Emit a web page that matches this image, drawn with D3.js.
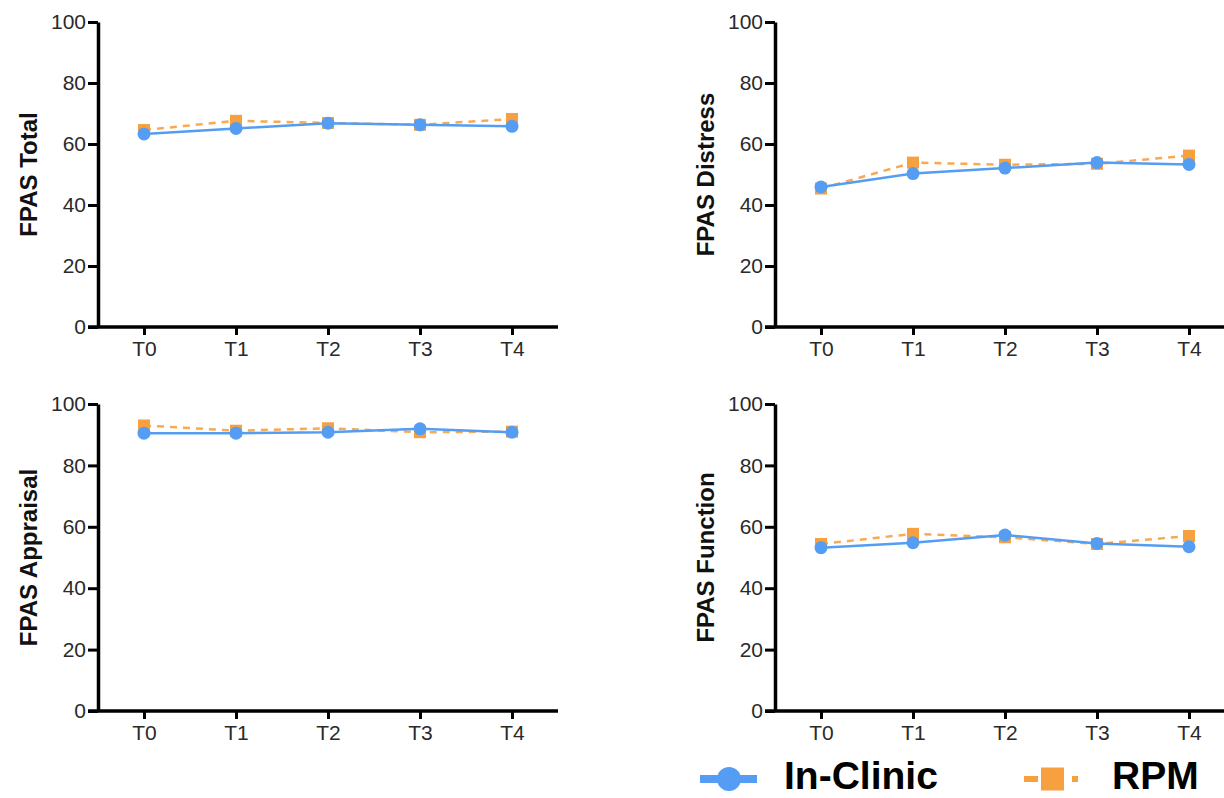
<!DOCTYPE html>
<html>
<head>
<meta charset="utf-8">
<script src="https://cdn.jsdelivr.net/npm/d3@7"></script>
<style>
  html, body { margin: 0; padding: 0; background: #fff; }
  svg { display: block; font-family: "Liberation Sans", Arial, sans-serif; }
</style>
</head>
<body>
<svg id="chart" width="1224" height="798"></svg>
<script>
// timepoints and tick labels
const timepoints = ["T0", "T1", "T2", "T3", "T4"];
const yTicks = [0, 20, 40, 60, 80, 100];

// FPAS scores
const totalClinic = [63.3, 65.1, 66.8, 66.3, 65.8];
const totalRpm = [64.6, 67.6, 66.9, 66.3, 68.2];
const distressClinic = [45.9, 50.3, 52.1, 53.9, 53.3];
const distressRpm = [45.4, 53.9, 53.2, 53.5, 56.2];
const appraisalClinic = [90.5, 90.5, 90.8, 91.9, 90.8];
const appraisalRpm = [93.0, 91.3, 92.1, 90.8, 91.0];
const functionClinic = [53.2, 54.8, 57.3, 54.6, 53.5];
const functionRpm = [54.4, 57.7, 56.6, 54.4, 57.0];

const seriesNames = ["In-Clinic", "RPM"];

const blue = "#559df2";
const orange = "#f7a040";
const tickLen = 10;

const svg = d3.select("#chart");

// one entry per panel, left/top = position of the y axis & the 100 line
const panels = [
  { title: "FPAS Total", clinic: totalClinic, rpm: totalRpm, left: 98, top: 22, bottom: 327, titleX: 28 },
  { title: "FPAS Distress", clinic: distressClinic, rpm: distressRpm, left: 775, top: 22, bottom: 327, titleX: 705 },
  { title: "FPAS Appraisal", clinic: appraisalClinic, rpm: appraisalRpm, left: 98, top: 404, bottom: 711, titleX: 28 },
  { title: "FPAS Function", clinic: functionClinic, rpm: functionRpm, left: 775, top: 404, bottom: 711, titleX: 705 }
];

panels.forEach((p) => {
  const x = d3.scalePoint().domain(timepoints).range([p.left, p.left + 460]).padding(0.5);
  const y = d3.scaleLinear().domain([0, 100]).range([p.bottom, p.top]);

  const g = svg.append("g");

  // y axis
  const yAxis = g.append("g")
    .attr("transform", `translate(${p.left},0)`)
    .call(d3.axisLeft(y).tickValues(yTicks).tickSize(tickLen).tickPadding(2).tickSizeOuter(0));
  yAxis.select(".domain").attr("stroke", "#000").attr("stroke-width", 3.5);
  yAxis.selectAll(".tick line").attr("stroke", "#000").attr("stroke-width", 3);
  yAxis.selectAll(".tick text").attr("fill", "#2a2a2a").style("font-size", "21px");

  // x axis
  const xAxis = g.append("g")
    .attr("transform", `translate(0,${p.bottom})`)
    .call(d3.axisBottom(x).tickSize(8).tickPadding(6).tickSizeOuter(0));
  xAxis.select(".domain").remove();
  xAxis.append("line")
    .attr("x1", p.left - tickLen)
    .attr("x2", x.range()[1])
    .attr("stroke", "#000")
    .attr("stroke-width", 3.5);
  xAxis.selectAll(".tick line").attr("stroke", "#000").attr("stroke-width", 3);
  xAxis.selectAll(".tick text").attr("fill", "#2a2a2a").style("font-size", "21px");

  // axis title
  g.append("text")
    .attr("transform", `translate(${p.titleX},${(p.top + p.bottom) / 2}) rotate(-90)`)
    .attr("text-anchor", "middle")
    .attr("dominant-baseline", "central")
    .style("font-size", "24px")
    .style("font-weight", "bold")
    .attr("fill", "#111")
    .text(p.title);

  const line = d3.line().x((d, i) => x(timepoints[i])).y((d) => y(d));

  // RPM first so In-Clinic sits on top
  g.append("path")
    .attr("d", line(p.rpm))
    .attr("fill", "none")
    .attr("stroke", orange)
    .attr("stroke-width", 2.5)
    .attr("stroke-dasharray", "7 6")
    .attr("opacity", 0.9);
  g.selectAll(".sq")
    .data(p.rpm)
    .join("rect")
    .attr("x", (d, i) => x(timepoints[i]) - 6)
    .attr("y", (d) => y(d) - 6)
    .attr("width", 12)
    .attr("height", 12)
    .attr("fill", orange);

  g.append("path")
    .attr("d", line(p.clinic))
    .attr("fill", "none")
    .attr("stroke", blue)
    .attr("stroke-width", 2.5);
  g.selectAll(".dot")
    .data(p.clinic)
    .join("circle")
    .attr("cx", (d, i) => x(timepoints[i]))
    .attr("cy", (d) => y(d))
    .attr("r", 6.5)
    .attr("fill", blue);
});

// legend
const legend = svg.append("g");
const lgY = 779;

legend.append("line")
  .attr("x1", 700).attr("x2", 757)
  .attr("y1", lgY).attr("y2", lgY)
  .attr("stroke", blue).attr("stroke-width", 8);
legend.append("circle")
  .attr("cx", 729).attr("cy", lgY).attr("r", 12)
  .attr("fill", blue);
legend.append("text")
  .attr("x", 784).attr("y", 789)
  .style("font-size", "39px").style("font-weight", "bold")
  .attr("fill", "#000")
  .text(seriesNames[0]);

legend.append("line")
  .attr("x1", 1024).attr("x2", 1038)
  .attr("y1", lgY).attr("y2", lgY)
  .attr("stroke", orange).attr("stroke-width", 6);
legend.append("rect")
  .attr("x", 1041).attr("y", lgY - 11.5)
  .attr("width", 23).attr("height", 23)
  .attr("fill", orange);
legend.append("line")
  .attr("x1", 1072).attr("x2", 1078)
  .attr("y1", lgY).attr("y2", lgY)
  .attr("stroke", orange).attr("stroke-width", 6);
legend.append("text")
  .attr("x", 1112).attr("y", 789)
  .style("font-size", "39px").style("font-weight", "bold")
  .attr("fill", "#000")
  .text(seriesNames[1]);
</script>
</body>
</html>
